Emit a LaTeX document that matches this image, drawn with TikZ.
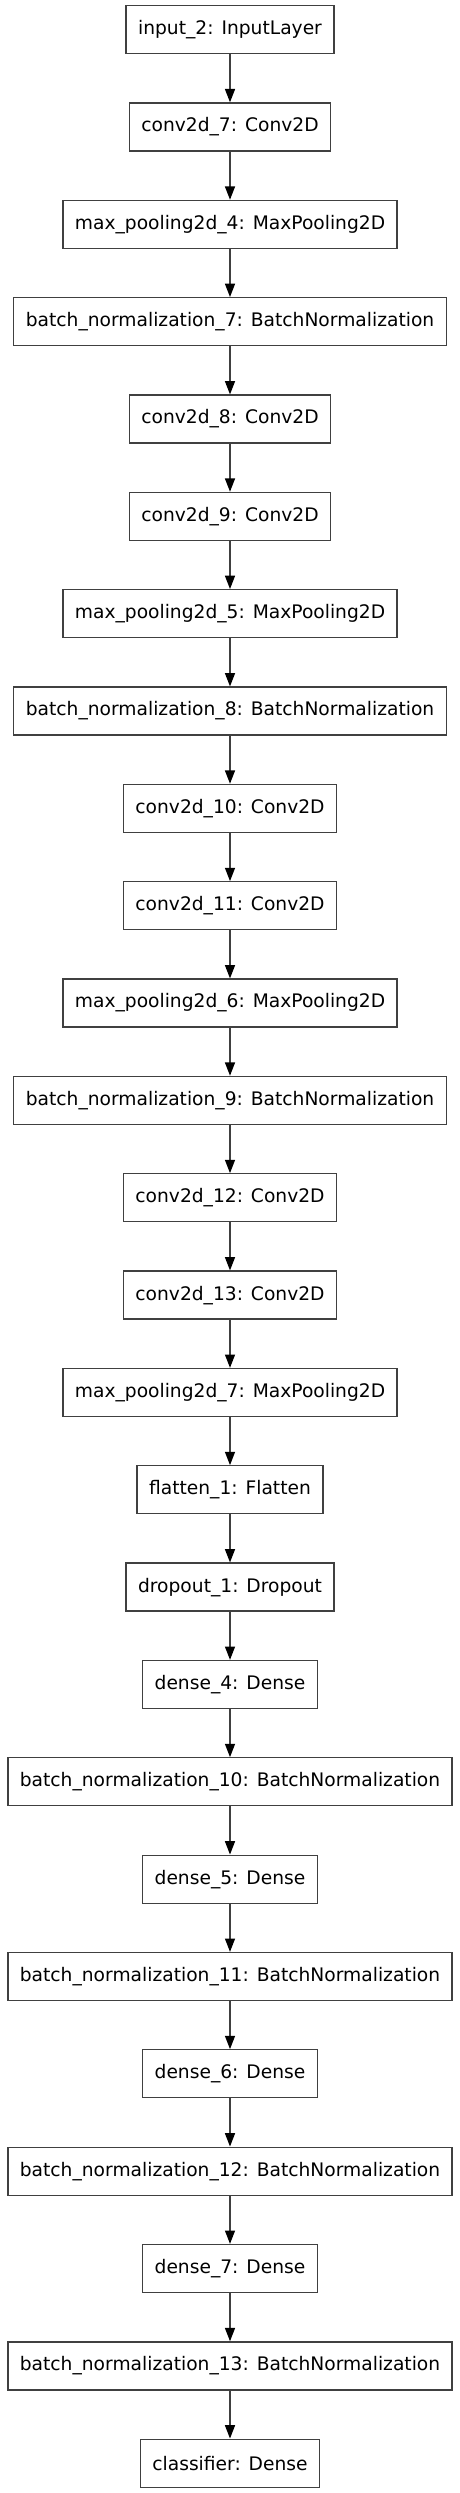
\documentclass[tikz,border=0pt]{standalone}
\usepackage{fontspec}
\setmainfont{DejaVu Sans}
\usetikzlibrary{arrows.meta}

\begin{document}
\begin{tikzpicture}[x=0.75pt,y=-0.75pt,
        layer/.style={draw=black!75, line width=1pt, minimum height=36pt, inner xsep=9pt,
            font=\fontsize{14}{16}\selectfont},
        edge/.style={draw=black!75, line width=1pt, -{Triangle[length=10pt,width=7.5pt,black]}}]
        \useasboundingbox (0,0) rectangle (460,2493);

        \node[layer] (input2) at (230,29.7) {input\_2: InputLayer};
        \node[layer] (conv7) at (230,127.0) {conv2d\_7: Conv2D};
        \node[layer] (pool4) at (230,224.4) {max\_pooling2d\_4: MaxPooling2D};
        \node[layer] (bn7) at (230,321.7) {batch\_normalization\_7: BatchNormalization};
        \node[layer] (conv8) at (230,419.1) {conv2d\_8: Conv2D};
        \node[layer] (conv9) at (230,516.4) {conv2d\_9: Conv2D};
        \node[layer] (pool5) at (230,613.7) {max\_pooling2d\_5: MaxPooling2D};
        \node[layer] (bn8) at (230,711.1) {batch\_normalization\_8: BatchNormalization};
        \node[layer] (conv10) at (230,808.4) {conv2d\_10: Conv2D};
        \node[layer] (conv11) at (230,905.8) {conv2d\_11: Conv2D};
        \node[layer] (pool6) at (230,1003.1) {max\_pooling2d\_6: MaxPooling2D};
        \node[layer] (bn9) at (230,1100.4) {batch\_normalization\_9: BatchNormalization};
        \node[layer] (conv12) at (230,1197.8) {conv2d\_12: Conv2D};
        \node[layer] (conv13) at (230,1295.1) {conv2d\_13: Conv2D};
        \node[layer] (pool7) at (230,1392.5) {max\_pooling2d\_7: MaxPooling2D};
        \node[layer] (flat1) at (230,1489.8) {flatten\_1: Flatten};
        \node[layer] (drop1) at (230,1587.1) {dropout\_1: Dropout};
        \node[layer] (dense4) at (230,1684.5) {dense\_4: Dense};
        \node[layer] (bn10) at (230,1781.8) {batch\_normalization\_10: BatchNormalization};
        \node[layer] (dense5) at (230,1879.2) {dense\_5: Dense};
        \node[layer] (bn11) at (230,1976.5) {batch\_normalization\_11: BatchNormalization};
        \node[layer] (dense6) at (230,2073.8) {dense\_6: Dense};
        \node[layer] (bn12) at (230,2171.2) {batch\_normalization\_12: BatchNormalization};
        \node[layer] (dense7) at (230,2268.5) {dense\_7: Dense};
        \node[layer] (bn13) at (230,2365.9) {batch\_normalization\_13: BatchNormalization};
        \node[layer] (clf) at (230,2463.2) {classifier: Dense};

        \foreach \a/\b in {input2/conv7,conv7/pool4,pool4/bn7,bn7/conv8,conv8/conv9,
                conv9/pool5,pool5/bn8,bn8/conv10,conv10/conv11,conv11/pool6,pool6/bn9,
                bn9/conv12,conv12/conv13,conv13/pool7,pool7/flat1,flat1/drop1,drop1/dense4,
                dense4/bn10,bn10/dense5,dense5/bn11,bn11/dense6,dense6/bn12,bn12/dense7,
                dense7/bn13,bn13/clf}
            \draw[edge] (\a) -- (\b);
    \end{tikzpicture}
\end{document}
